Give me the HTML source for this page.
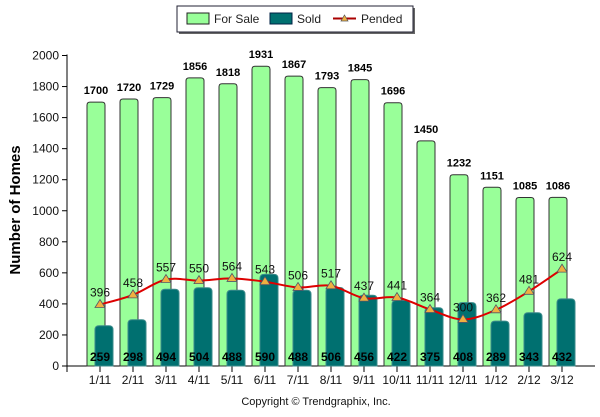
<!DOCTYPE html><html><head><meta charset="utf-8"><style>body{margin:0;background:#fff;font-family:"Liberation Sans",sans-serif}</style></head><body>
<svg id="c" width="600" height="412" xmlns="http://www.w3.org/2000/svg" font-family="Liberation Sans, sans-serif"></svg>
<script>
const categories=["1/11","2/11","3/11","4/11","5/11","6/11","7/11","8/11","9/11","10/11","11/11","12/11","1/12","2/12","3/12"];
const forSale=[1700,1720,1729,1856,1818,1931,1867,1793,1845,1696,1450,1232,1151,1085,1086];
const sold=[259,298,494,504,488,590,488,506,456,422,375,408,289,343,432];
const pended=[396,458,557,550,564,543,506,517,437,441,364,300,362,481,624];
const yTicks=[0,200,400,600,800,1000,1200,1400,1600,1800,2000];
const svg=document.getElementById('c');const NS='http://www.w3.org/2000/svg';
const X0=67,X1=595,Y0=366,Y1=55.5;
const x=i=>X0+(X1-X0)/(categories.length+1)*(i+1);
const y=v=>Y0-(Y0-Y1)*v/2000;
function el(t,a,p){const e=document.createElementNS(NS,t);for(const k in a)e.setAttribute(k,a[k]);(p||svg).appendChild(e);return e;}
function txt(s,a){const e=el('text',a);e.textContent=s;return e;}
// legend
const lg=el('g',{});


el('rect',{x:179,y:8,width:236,height:26,fill:'#666'},lg);
el('rect',{x:177,y:6,width:236,height:26,fill:'#fff',stroke:'#223',"stroke-width":1},lg);
el('rect',{x:187,y:13,width:22,height:11,fill:'#99ff99',stroke:'#222'},lg);
txt('For Sale',{x:214,y:23,"font-size":12,fill:'#222'});
el('rect',{x:270,y:13,width:22,height:11,fill:'#007070',stroke:'#024'},lg);
txt('Sold',{x:297,y:23,"font-size":12,fill:'#222'});
el('line',{x1:333,y1:18.5,x2:356,y2:18.5,stroke:'#a00',"stroke-width":2},lg);
el('path',{d:'M344.5 15 L348 21 L341 21Z',fill:'#f0b040',stroke:'#555',"stroke-width":0.7},lg);
txt('Pended',{x:361,y:23,"font-size":12,fill:'#222'});
// y axis
el('line',{x1:X0,y1:Y1-1,x2:X0,y2:Y0+6,stroke:'#000'});
el('line',{x1:X0,y1:Y0,x2:X1,y2:Y0,stroke:'#000'});
yTicks.forEach(v=>{el('line',{x1:X0-5,y1:y(v),x2:X0,y2:y(v),stroke:'#000'});
 const t=txt(v,{x:X0-8,y:y(v)+4,"font-size":12,"text-anchor":'end',fill:'#111'});});
const yt=txt('Number of Homes',{x:0,y:0,"font-size":15,"font-weight":'bold',"text-anchor":'middle',transform:'translate(20,210) rotate(-90)'});

// bars
categories.forEach((c,i)=>{
 const cx=x(i);
 el('line',{x1:cx,y1:Y0,x2:cx,y2:Y0+6,stroke:'#000'});
 const tl=txt(c,{x:cx,y:384,"font-size":12,"text-anchor":'middle',fill:'#111'});
 const fy=y(forSale[i]);
 const b=el('path',{d:`M${cx-13} ${Y0} L${cx-13} ${fy+3} Q${cx-13} ${fy} ${cx-10} ${fy} L${cx+2} ${fy} Q${cx+5} ${fy} ${cx+5} ${fy+3} L${cx+5} ${Y0}Z`,fill:'#99ff99',stroke:'#333',"stroke-width":1});
 
 
 const l=txt(forSale[i],{x:cx-4,y:fy-8,"font-size":11,"font-weight":'bold',"text-anchor":'middle'});
});
categories.forEach((c,i)=>{
 const cx=x(i),sy=y(sold[i]);
 const b=el('path',{d:`M${cx-5} ${Y0} L${cx-5} ${sy+4} Q${cx-5} ${sy} ${cx-1} ${sy} L${cx+9} ${sy} Q${cx+13} ${sy} ${cx+13} ${sy+4} L${cx+13} ${Y0}Z`,fill:'#007070',stroke:'#3a8a8a',"stroke-width":1});
 
 
 const l=txt(sold[i],{x:cx,y:361,"font-size":12,"font-weight":'bold',"text-anchor":'middle'});
});
// pended line (smooth)
const pts=pended.map((v,i)=>[x(i),y(v)]);
let d=`M${pts[0][0]} ${pts[0][1]}`;
for(let i=0;i<pts.length-1;i++){const p0=pts[i-1]||pts[i],p1=pts[i],p2=pts[i+1],p3=pts[i+2]||p2;
 d+=` C${p1[0]+(p2[0]-p0[0])/6} ${p1[1]+(p2[1]-p0[1])/6} ${p2[0]-(p3[0]-p1[0])/6} ${p2[1]-(p3[1]-p1[1])/6} ${p2[0]} ${p2[1]}`;}
const ln=el('path',{d:d,fill:'none',stroke:'#dd0000',"stroke-width":2});


pts.forEach((p,i)=>{
 const m=el('path',{d:`M${p[0]} ${p[1]-5} L${p[0]+5} ${p[1]+3} L${p[0]-5} ${p[1]+3}Z`,fill:'#f0b040',stroke:'#556',"stroke-width":0.8});
 
 
 const l=txt(pended[i],{x:p[0],y:p[1]-8,"font-size":12,"text-anchor":'middle',fill:'#111'});
});
const cp=txt('Copyright © Trendgraphix, Inc.',{x:316,y:405,"font-size":11,"text-anchor":'middle',fill:'#111'});

</script></body></html>
